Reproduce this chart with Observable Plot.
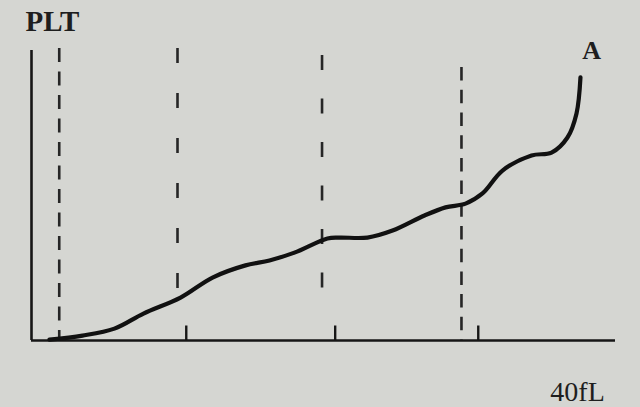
<!DOCTYPE html>
<html>
<head>
<meta charset="utf-8">
<script src="https://cdn.jsdelivr.net/npm/d3@7"></script>
<script src="https://cdn.jsdelivr.net/npm/@observablehq/plot@0.6"></script>
<style>
  html, body { margin: 0; padding: 0; background: #d5d6d2; }
  #chart { width: 640px; height: 407px; overflow: hidden; }
</style>
</head>
<body>
<div id="chart"></div>
<script>
// Platelet volume histogram (fL) with abnormal tail "A"
const volumeFL = [1.23, 3.49, 5.68, 7.67, 10.21, 12.40, 14.66, 16.30, 18.01, 20.27, 21.10, 23.01, 24.73, 26.92, 28.36, 29.73, 30.89, 32.26, 34.25, 35.62, 36.71, 37.33, 37.60];
const pltCount = [0.3, 1.7, 4.1, 9.3, 14.8, 21.7, 25.9, 27.6, 30.3, 35.2, 35.5, 35.5, 37.9, 43.1, 45.9, 47.2, 50.7, 58.6, 63.8, 64.8, 70.0, 78.3, 90.7];

// dashed discriminator lines: x position, top and bottom extents, dash pattern
const dashX = [1.9, 10.0, 19.9, 29.45];
const dashTop = [100.7, 100.7, 98.3, 94.1];
const dashBottom = [0.7, 17.9, 16.2, 0];
const dashPattern = ["14,9.5", "15,30", "15,28.5", "13.5,9.2"];

// small ticks on the volume axis
const tickX = [10.6, 20.8, 30.6];

const yLabel = "PLT";
const curveLabel = "A";
const xLabel = "40fL";

const curve = volumeFL.map((v, i) => ({x: v, y: pltCount[i]}));

const ink = "#161616";
const font = "'Liberation Serif', 'DejaVu Serif', serif";

const dashMarks = dashX.map((x, i) =>
  Plot.ruleX([{x, top: dashTop[i], bottom: dashBottom[i]}], {
    x: "x", y1: "top", y2: "bottom",
    stroke: "#262626", strokeWidth: 2.6, strokeDasharray: dashPattern[i]
  })
);

const chart = Plot.plot({
  width: 640,
  height: 407,
  marginLeft: 31,
  marginRight: 25,
  marginTop: 50,
  marginBottom: 67,
  style: {background: "#d5d6d2", fontFamily: font},
  x: {domain: [0, 40], axis: null},
  y: {domain: [0, 100], axis: null},
  marks: [
    ...dashMarks,
    Plot.ruleX(tickX, {x: d => d, y1: 0, y2: 5, stroke: ink, strokeWidth: 2.4}),
    Plot.ruleX([0], {y1: 0, y2: 100, stroke: ink, strokeWidth: 2.6}),
    Plot.ruleY([0], {x1: 0, x2: 40, stroke: ink, strokeWidth: 2.6}),
    Plot.line(curve, {x: "x", y: "y", curve: "catmull-rom", stroke: "#111", strokeWidth: 4.2, strokeLinecap: "round"}),
    Plot.text([yLabel], {x: 0, y: 100, text: d => d, textAnchor: "start", lineAnchor: "bottom", dx: -6, dy: -20, fontSize: 29, fontWeight: "bold", fill: "#1e1e1e"}),
    Plot.text([curveLabel], {x: 38.36, y: 97.2, text: d => d, textAnchor: "middle", lineAnchor: "bottom", fontSize: 26, fontWeight: "bold", fill: "#1e1e1e"}),
    Plot.text([xLabel], {x: 37.4, y: 0, text: d => d, textAnchor: "middle", lineAnchor: "bottom", dy: 60, fontSize: 28, fill: "#1e1e1e"})
  ]
});
document.getElementById("chart").append(chart);
</script>
</body>
</html>
